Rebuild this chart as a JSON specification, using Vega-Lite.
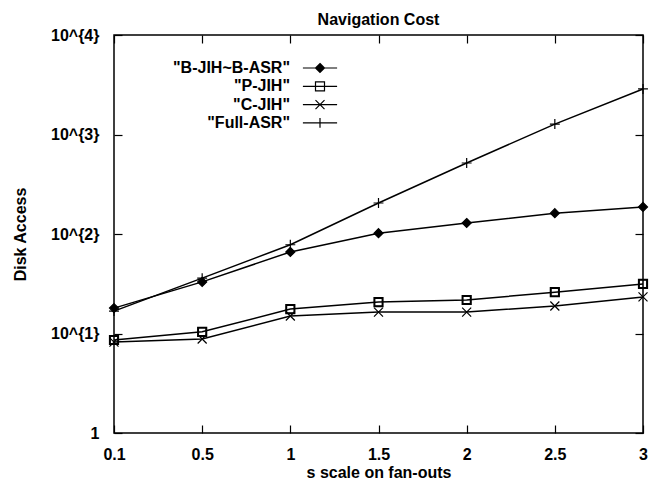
{
  "$schema": "https://vega.github.io/schema/vega-lite/v6.json",
  "width": 529,
  "height": 398,
  "autosize": {"type": "none"},
  "padding": {"left": 114, "top": 35, "right": 16, "bottom": 50},
  "background": "white",
  "config": {
    "font": "Liberation Sans",
    "view": {"stroke": "black", "strokeWidth": 1.5},
    "axis": {
      "labelFont": "Liberation Sans",
      "labelFontSize": 16,
      "labelFontWeight": "bold",
      "labelColor": "black",
      "titleFont": "Liberation Sans",
      "titleFontSize": 16,
      "titleFontWeight": "bold",
      "titleColor": "black",
      "tickColor": "black",
      "tickWidth": 1.2,
      "tickSize": -8,
      "domain": false,
      "grid": false
    }
  },
  "title": {
    "text": "Navigation Cost",
    "font": "Liberation Sans",
    "fontSize": 16,
    "fontWeight": "bold",
    "color": "black",
    "offset": -1
  },
  "data": {
    "values": [
      {"s": "0.1", "series": "B-JIH~B-ASR", "value": 18},
      {"s": "0.5", "series": "B-JIH~B-ASR", "value": 33},
      {"s": "1", "series": "B-JIH~B-ASR", "value": 66},
      {"s": "1.5", "series": "B-JIH~B-ASR", "value": 102},
      {"s": "2", "series": "B-JIH~B-ASR", "value": 129},
      {"s": "2.5", "series": "B-JIH~B-ASR", "value": 162},
      {"s": "3", "series": "B-JIH~B-ASR", "value": 187},
      {"s": "0.1", "series": "P-JIH", "value": 8.6},
      {"s": "0.5", "series": "P-JIH", "value": 10.4},
      {"s": "1", "series": "P-JIH", "value": 17.6},
      {"s": "1.5", "series": "P-JIH", "value": 20.7},
      {"s": "2", "series": "P-JIH", "value": 21.7},
      {"s": "2.5", "series": "P-JIH", "value": 26},
      {"s": "3", "series": "P-JIH", "value": 31.5},
      {"s": "0.1", "series": "C-JIH", "value": 8.2},
      {"s": "0.5", "series": "C-JIH", "value": 8.8},
      {"s": "1", "series": "C-JIH", "value": 15},
      {"s": "1.5", "series": "C-JIH", "value": 16.4},
      {"s": "2", "series": "C-JIH", "value": 16.4},
      {"s": "2.5", "series": "C-JIH", "value": 18.9},
      {"s": "3", "series": "C-JIH", "value": 23.3},
      {"s": "0.1", "series": "Full-ASR", "value": 16.8},
      {"s": "0.5", "series": "Full-ASR", "value": 36},
      {"s": "1", "series": "Full-ASR", "value": 78},
      {"s": "1.5", "series": "Full-ASR", "value": 205},
      {"s": "2", "series": "Full-ASR", "value": 517},
      {"s": "2.5", "series": "Full-ASR", "value": 1273},
      {"s": "3", "series": "Full-ASR", "value": 2870}
    ]
  },
  "layer": [
    {
      "mark": {"type": "line", "color": "black", "strokeWidth": 1.5},
      "encoding": {
        "x": {
          "field": "s", "type": "ordinal",
          "sort": ["0.1", "0.5", "1", "1.5", "2", "2.5", "3"],
          "scale": {"type": "point", "padding": 0},
          "axis": {"orient": "bottom", "labelAngle": 0, "labelPadding": 21, "title": "s scale on fan-outs", "titlePadding": 2}
        },
        "y": {
          "field": "value", "type": "quantitative",
          "scale": {"type": "log", "domain": [1, 10000], "nice": false},
          "axis": {
            "orient": "left",
            "values": [1, 10, 100, 1000, 10000],
            "labelExpr": "datum.value == 1 ? '1' : '10^{' + format(log(datum.value)/log(10), '.0f') + '}'",
            "labelPadding": 23,
            "title": "Disk Access",
            "titlePadding": 22
          }
        },
        "detail": {"field": "series"}
      }
    },
    {
      "mark": {"type": "point", "filled": true, "color": "black", "stroke": "black", "strokeWidth": 1.2, "size": 81, "opacity": 1},
      "encoding": {
        "x": {
          "field": "s", "type": "ordinal",
          "sort": ["0.1", "0.5", "1", "1.5", "2", "2.5", "3"],
          "axis": {"orient": "top", "labels": false, "title": null}
        },
        "y": {
          "field": "value", "type": "quantitative",
          "axis": {"orient": "right", "labels": false, "title": null, "values": [1, 10, 100, 1000, 10000]}
        },
        "shape": {
          "field": "series", "type": "nominal",
          "scale": {
            "domain": ["B-JIH~B-ASR", "P-JIH", "C-JIH", "Full-ASR"],
            "range": [
              "M0,-1L1,0L0,1L-1,0Z",
              "M-1,-1H1V1H-1Z M-0.82,-0.82V0.82H0.82V-0.82Z",
              "M-1,-1L1,1M-1,1L1,-1",
              "M-1.1,0H1.1M0,-1.1V1.1"
            ]
          },
          "legend": null
        }
      }
    },
    {
      "mark": {"type": "point", "filled": false, "color": "black", "strokeWidth": 1.2, "size": 81, "opacity": 0},
      "encoding": {
        "x": {"field": "s", "type": "ordinal", "sort": ["0.1", "0.5", "1", "1.5", "2", "2.5", "3"], "axis": null},
        "y": {"field": "value", "type": "quantitative", "axis": null},
        "shape": {
          "field": "series", "type": "nominal",
          "scale": {
            "domain": ["B-JIH~B-ASR", "P-JIH", "C-JIH", "Full-ASR"],
            "range": [
              "M-3.8,0H3.8M0,-1L1,0L0,1L-1,0ZM0,-0.75L0.75,0L0,0.75L-0.75,0ZM0,-0.5L0.5,0L0,0.5L-0.5,0ZM0,-0.25L0.25,0L0,0.25L-0.25,0ZM0,-1V1",
              "M-3.8,0H3.8M-1,-1H1V1H-1Z",
              "M-3.8,0H3.8M-1,-1L1,1M-1,1L1,-1",
              "M-3.8,0H3.8M0,-1.1V1.1"
            ]
          },
          "legend": {
            "orient": "none",
            "legendX": 198,
            "legendY": 25,
            "padding": 0,
            "title": null,
            "labelExpr": "'\"' + datum.label + '\"'",
            "labelAlign": "right",
            "labelOffset": -38,
            "labelFont": "Liberation Sans",
            "labelFontSize": 16,
            "labelFontWeight": "bold",
            "labelColor": "black",
            "symbolOpacity": 1,
            "symbolStrokeColor": "black",
            "symbolStrokeWidth": 1.2,
            "symbolSize": 81,
            "rowPadding": 2.3
          }
        }
      }
    }
  ],
  "resolve": {
    "scale": {"shape": "independent"},
    "axis": {"x": "independent", "y": "independent"}
  }
}
